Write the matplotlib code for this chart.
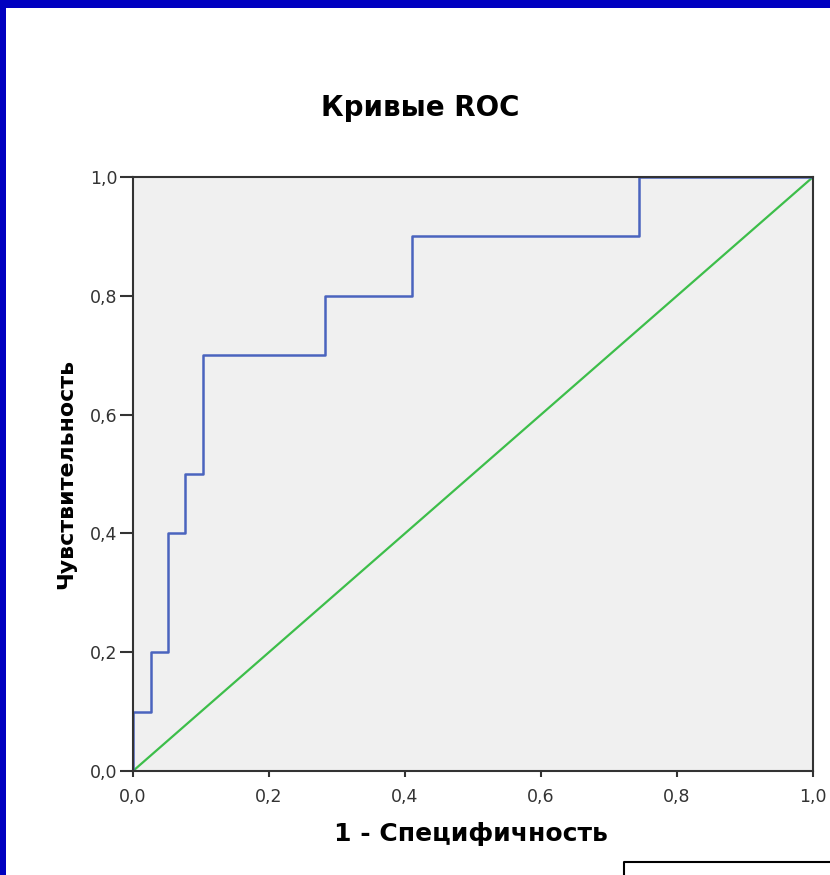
import matplotlib.pyplot as plt
from matplotlib.patches import Rectangle
from matplotlib.lines import Line2D

# ROC step curve (1 - specificity, sensitivity)
fpr = [0.0, 0.0, 0.026, 0.026, 0.051, 0.051, 0.077, 0.077, 0.103, 0.103,
       0.282, 0.282, 0.410, 0.410, 0.744, 0.744, 1.0]
tpr = [0.0, 0.1, 0.1, 0.2, 0.2, 0.4, 0.4, 0.5, 0.5, 0.7,
       0.7, 0.8, 0.8, 0.9, 0.9, 1.0, 1.0]
ref_x = [0.0, 1.0]
ref_y = [0.0, 1.0]
ticks = [0.0, 0.2, 0.4, 0.6, 0.8, 1.0]
tick_labels = ['0,0', '0,2', '0,4', '0,6', '0,8', '1,0']

plt.rcParams['font.family'] = ['DejaVu Sans']

fig = plt.figure(figsize=(8.3, 8.75), dpi=100)
ax = fig.add_axes([133/830, 1-771/875, 680/830, 594/875])
ax.set_facecolor('#F0F0F0')

ax.plot(ref_x, ref_y, color='#3DBE4A', linewidth=1.6)
ax.plot(fpr, tpr, color='#4A64BE', linewidth=1.8)

ax.set_xlim(0, 1)
ax.set_ylim(0, 1)
ax.set_xticks(ticks)
ax.set_xticklabels(tick_labels)
ax.set_yticks(ticks)
ax.set_yticklabels(tick_labels)
ax.tick_params(axis='x', length=4.5, width=1.5, pad=7.5, labelsize=12.5, colors='#333333')
ax.tick_params(axis='y', length=9.5, width=1.5, pad=1.5, labelsize=12.5, colors='#333333')
for s in ax.spines.values():
    s.set_color('#333333')
    s.set_linewidth(1.5)

fig.text(420/830, 1-108/875, 'Кривые ROC', ha='center', va='center',
         fontsize=20, fontweight='bold')
fig.text(471/830, 1-834/875, '1 - Специфичность', ha='center', va='center',
         fontsize=18, fontweight='bold')
fig.text(66/830, 1-474/875, 'Чувствительность', ha='center', va='center',
         rotation=90, fontsize=15.8, fontweight='bold')

# blue frame on top and left
fig.patches.append(Rectangle((0, 1-8/875), 1, 8/875, transform=fig.transFigure,
                             facecolor='#0000C0', edgecolor='none'))
fig.patches.append(Rectangle((0, 0), 6/830, 1, transform=fig.transFigure,
                             facecolor='#0000C0', edgecolor='none'))

# partially visible box in the lower right corner
fig.lines.append(Line2D([624/830, 624/830, 1.0], [0, 1-862/875, 1-862/875],
                        transform=fig.transFigure, color='black', linewidth=1.5))

fig.savefig('out.png', dpi=100)
